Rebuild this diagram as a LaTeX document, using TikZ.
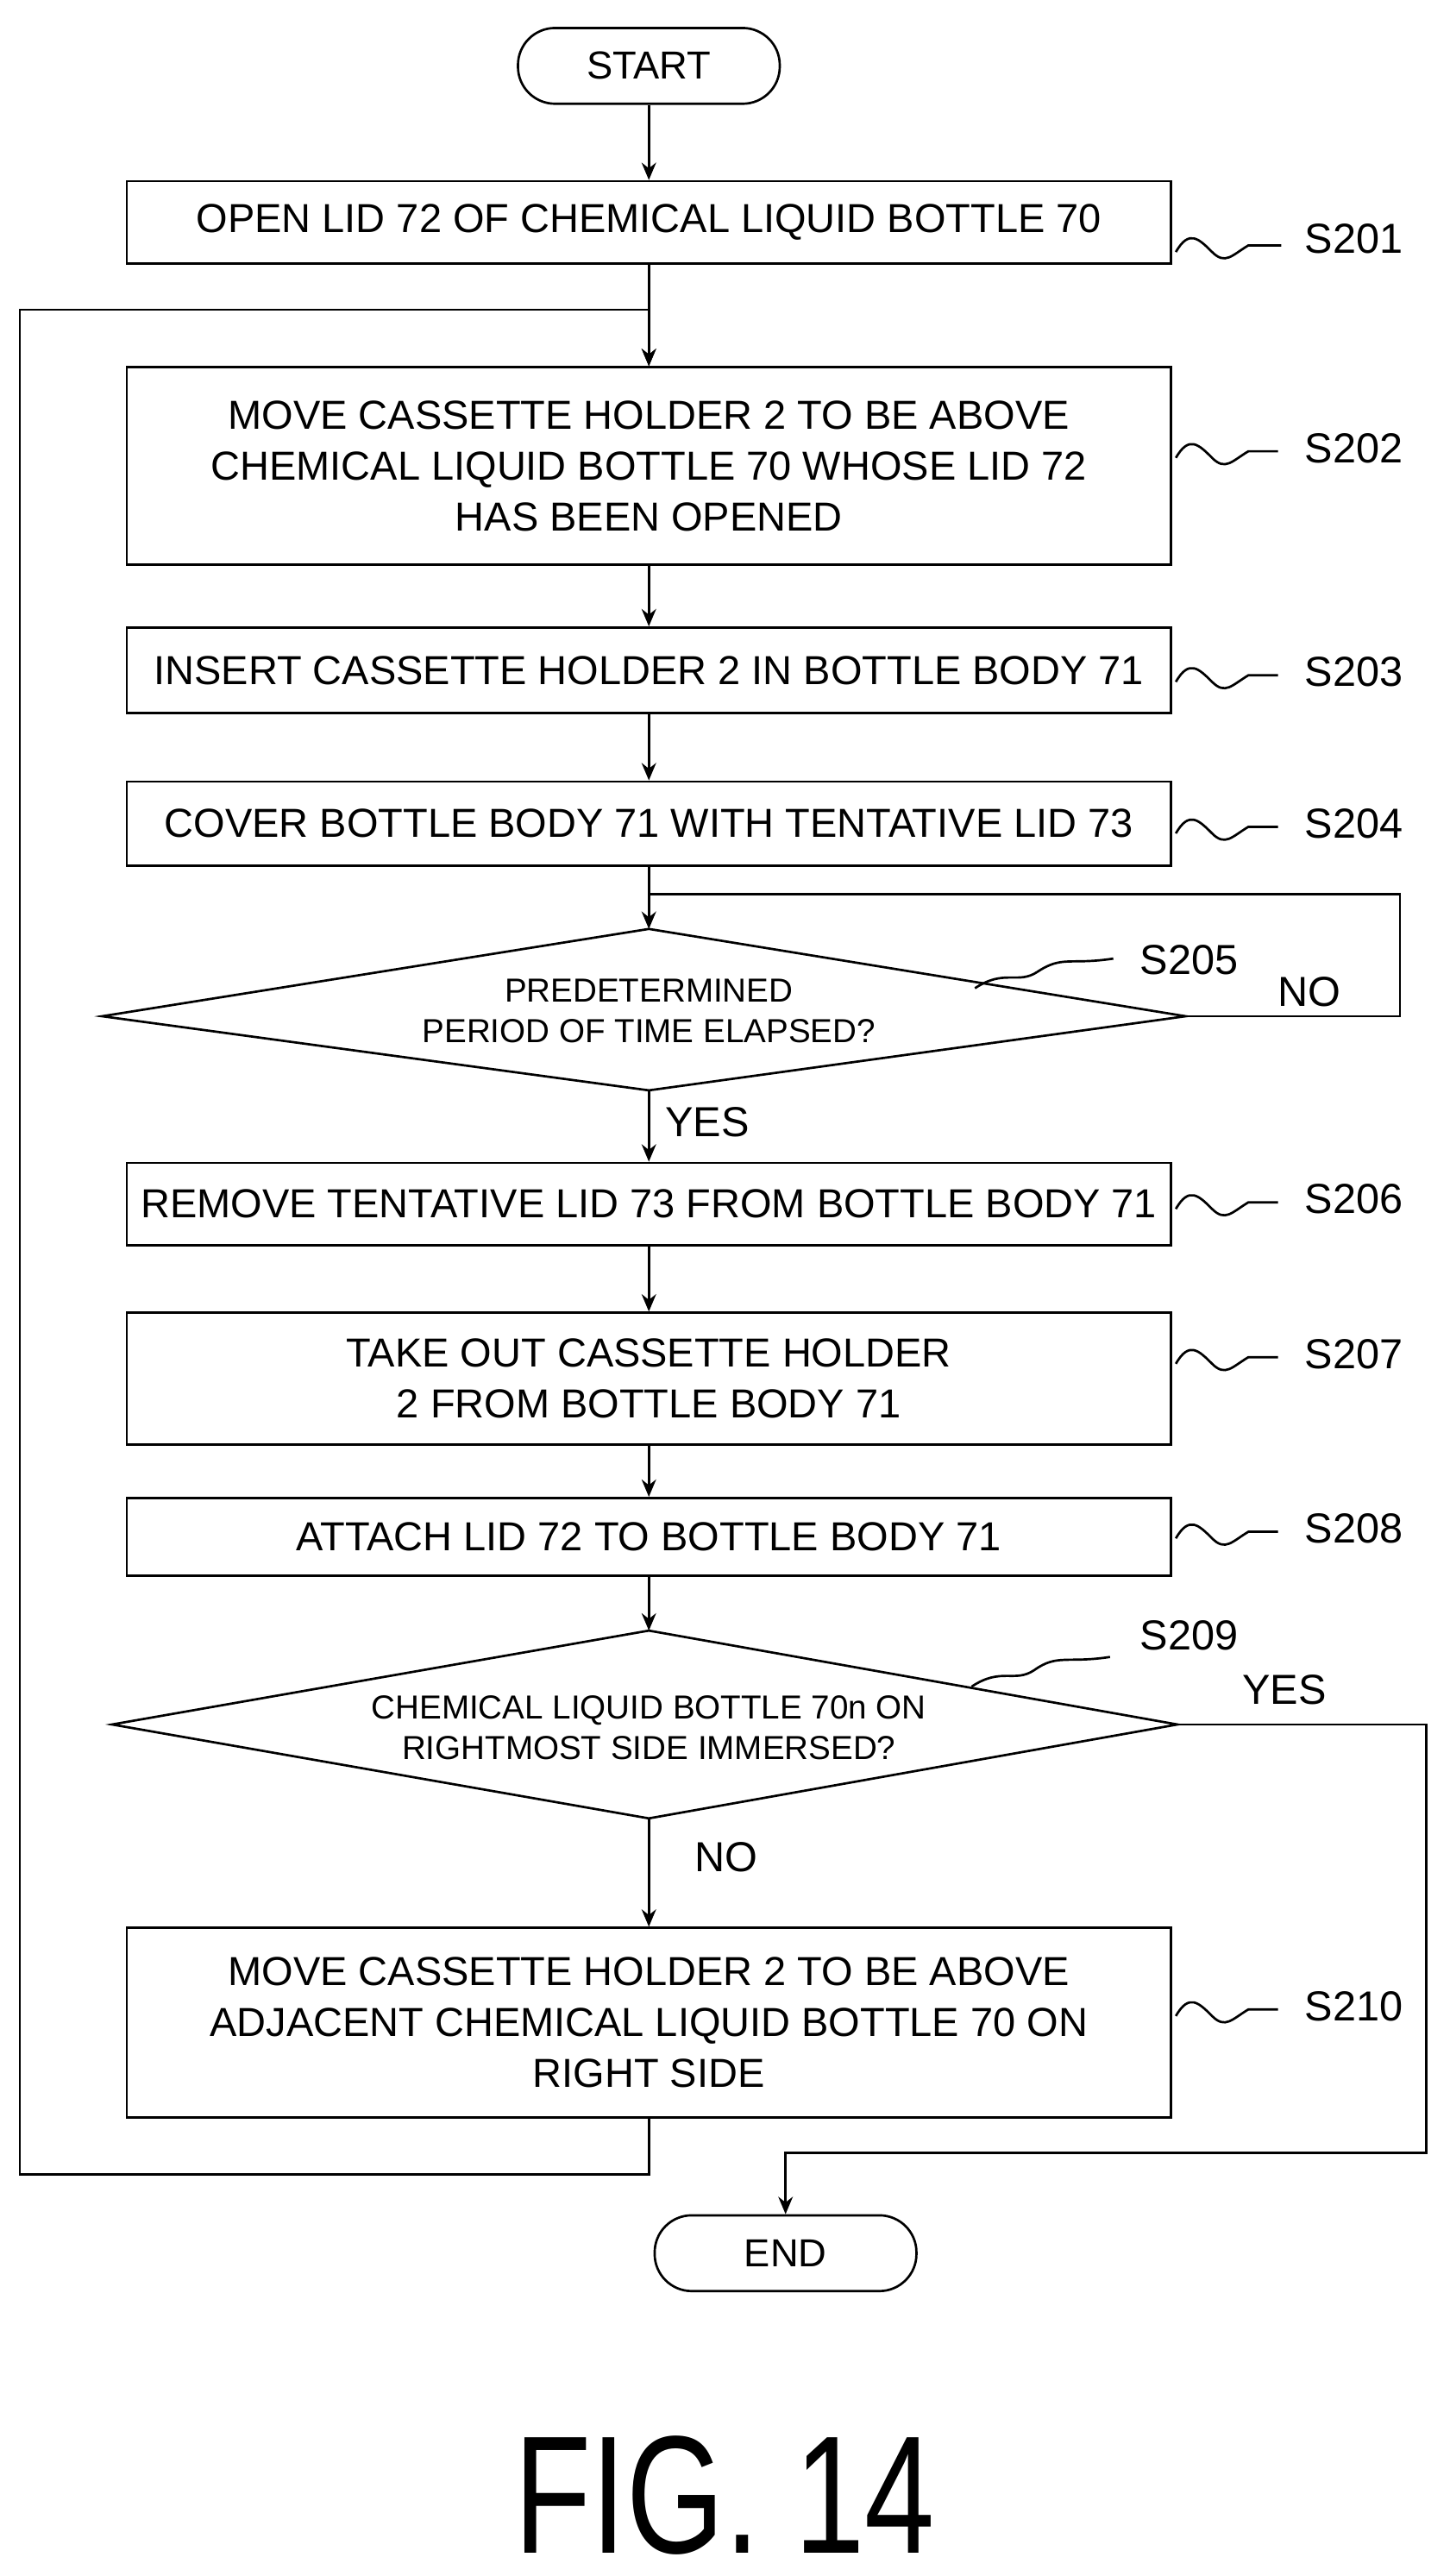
\documentclass[tikz,border=0pt]{standalone}
\usepackage{fontspec}
\setmainfont{Liberation Sans}
\usetikzlibrary{positioning, arrows.meta}
\newcommand{\wavyto}[1]{++(0,0) .. controls +(8,-14) and +(-8,-8) .. +(22,0) .. controls +(8,8) and +(-10,6) .. +(44,-4) -- +(#1,-4)}
\begin{document}
\begin{tikzpicture}[x=0.02cm, y=-0.02cm, >={Stealth[length=6pt,width=5pt]},
  box/.style={draw, line width=0.8pt, minimum width=12.68cm, inner sep=0pt, align=center, font=\fontsize{14}{17.5}\selectfont},
  term/.style={draw, line width=0.8pt, rounded corners=0.45cm, minimum width=3.18cm, minimum height=0.92cm, font=\fontsize{13.5}{15}\selectfont},
  lbl/.style={font=\fontsize{14.5}{16}\selectfont},
  line/.style={line width=0.8pt}]
  \useasboundingbox (0,0) rectangle (880,1564);
  % Terminals
  \node[term] (start) at (394,40) {START};
  \node[term] (end) at (477,1368) {END};
  % Process boxes
  \node[box, minimum height=1.0cm] (s201) at (394,135) {OPEN LID 72 OF CHEMICAL LIQUID BOTTLE 70};
  \node[box, minimum height=2.4cm] (s202) at (394,283) {MOVE CASSETTE HOLDER 2 TO BE ABOVE\\CHEMICAL LIQUID BOTTLE 70 WHOSE LID 72\\HAS BEEN OPENED};
  \node[box, minimum height=1.04cm] (s203) at (394,407) {INSERT CASSETTE HOLDER 2 IN BOTTLE BODY 71};
  \node[box, minimum height=1.02cm] (s204) at (394,500) {COVER BOTTLE BODY 71 WITH TENTATIVE LID 73};
  \node[box, minimum height=1.0cm] (s206) at (394,731) {REMOVE TENTATIVE LID 73 FROM BOTTLE BODY 71};
  \node[box, minimum height=1.6cm] (s207) at (394,837) {TAKE OUT CASSETTE HOLDER\\2 FROM BOTTLE BODY 71};
  \node[box, minimum height=0.94cm] (s208) at (394,933) {ATTACH LID 72 TO BOTTLE BODY 71};
  \node[box, minimum height=2.3cm] (s210) at (394,1228) {MOVE CASSETTE HOLDER 2 TO BE ABOVE\\ADJACENT CHEMICAL LIQUID BOTTLE 70 ON\\RIGHT SIDE};
  % Decisions
  \coordinate (d5t) at (394,564); \coordinate (d5b) at (394,662);
  \coordinate (d5l) at (62,617); \coordinate (d5r) at (720,617);
  \draw[line] (d5t) -- (d5r) -- (d5b) -- (d5l) -- cycle;
  \node[align=center, font=\fontsize{11.5}{14}\selectfont] (s205) at (394,614) {PREDETERMINED\\PERIOD OF TIME ELAPSED?};
  \coordinate (d9t) at (394,990); \coordinate (d9b) at (394,1104);
  \coordinate (d9l) at (68,1047); \coordinate (d9r) at (715,1047);
  \draw[line] (d9t) -- (d9r) -- (d9b) -- (d9l) -- cycle;
  \node[align=center, font=\fontsize{11.5}{14}\selectfont] (s209) at (394,1049) {CHEMICAL LIQUID BOTTLE 70n ON\\RIGHTMOST SIDE IMMERSED?};
  % Arrows
  \draw[line, ->] (start) -- (s201);
  \draw[line, ->] (s201) -- (s202);
  \draw[line, ->] (s202) -- (s203);
  \draw[line, ->] (s203) -- (s204);
  \draw[line] (s204) -- (394,543);
  \draw[line, ->] (d5b) -- (s206) node[pos=0.45, right=2pt, lbl] {YES};
  \draw[line, ->] (s206) -- (s207);
  \draw[line, ->] (s207) -- (s208);
  \draw[line, ->] (s208) -- (d9t);
  \draw[line, ->] (d9b) -- (s210) node[pos=0.36, right=12pt, lbl] {NO};
  % Loops
  \draw[line, ->] (d5r) -- (850,617) -- (850,543) -- (394,543) -- (d5t);
  \node[lbl] (no5) at (795,602) {NO};
  \draw[line, ->] (s210.south) -- (394,1320) -- (12,1320) -- (12,188) -- (394,188) -- (s202.north);
  \draw[line, ->] (d9r) -- (866,1047) -- (866,1307) -- (477,1307) -- (end);
  \node[lbl] (yes9) at (780,1026) {YES};
  % Step labels
  \node[lbl] (l201) at (822,145) {S201};
  \node[lbl] (l202) at (822,272) {S202};
  \node[lbl] (l203) at (822,408) {S203};
  \node[lbl] (l204) at (822,500) {S204};
  \node[lbl] (l205) at (722,583) {S205};
  \node[lbl] (l206) at (822,728) {S206};
  \node[lbl] (l207) at (822,822) {S207};
  \node[lbl] (l208) at (822,928) {S208};
  \node[lbl] (l209) at (722,993) {S209};
  \node[lbl] (l210) at (822,1218) {S210};
  % Wavy leaders
  \draw[line] (714,153) \wavyto{64};
  \draw[line] (714,278) \wavyto{62};
  \draw[line] (714,414) \wavyto{62};
  \draw[line] (714,506) \wavyto{62};
  \draw[line] (592,600) .. controls (610,588) and (618,598) .. (630,590) .. controls (645,580) and (650,586) .. (676,582);
  \draw[line] (714,734) \wavyto{62};
  \draw[line] (714,828) \wavyto{62};
  \draw[line] (714,934) \wavyto{62};
  \draw[line] (590,1024) .. controls (608,1012) and (616,1022) .. (628,1014) .. controls (642,1004) and (648,1010) .. (674,1006);
  \draw[line] (714,1224) \wavyto{62};
  % Caption
  \node[xscale=0.75, font=\fontsize{58}{58}\selectfont] (fig) at (440,1515) {FIG. 14};
\end{tikzpicture}
\end{document}
